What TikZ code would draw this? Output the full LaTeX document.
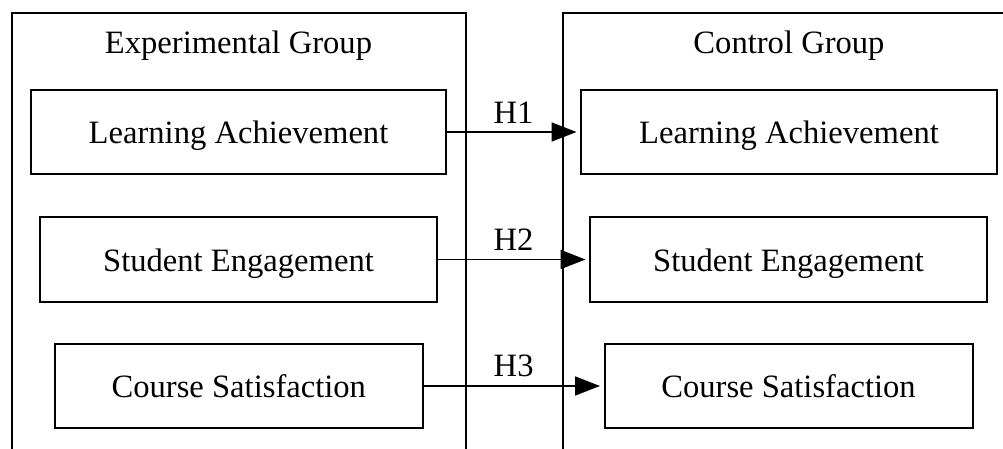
\documentclass[tikz,border=0pt]{standalone}
\usepackage{fontspec}
\setmainfont{Liberation Serif}
\usetikzlibrary{arrows.meta}
\begin{document}
\begin{tikzpicture}[x=1pt,y=-1pt,
  every node/.style={font=\fontsize{32.6}{36}\selectfont},
  cluster/.style={draw, line width=2pt},
  varbox/.style={draw, line width=2pt, rectangle, inner sep=0pt,
    text height=25pt, text depth=1.5pt},
  hlabel/.style={inner sep=0pt, above=8pt},
  hyp/.style={line width=1.8pt, -{Triangle[length=25pt,width=19pt]}, shorten >=3.5pt}]
\useasboundingbox (0,0) rectangle (1003,449);
\clip (0,0) rectangle (1003,449);
% clusters
\draw[cluster] (12,470) -- (12,13) -- (465.5,13) -- (465.5,470);
\draw[cluster] (562.5,470) -- (562.5,13) -- (1030,13);
\node[anchor=base] (expl) at (238.5,54) {Experimental Group};
\node[anchor=base] (ctrl) at (789,54) {Control Group};
% experimental group
\node[varbox, minimum width=415pt, minimum height=84pt] (la1) at (238.5,132) {Learning Achievement};
\node[varbox, minimum width=397pt, minimum height=85pt] (se1) at (238.5,259.5) {Student Engagement};
\node[varbox, minimum width=368pt, minimum height=84pt] (cs1) at (238.8,386) {Course Satisfaction};
% control group
\node[varbox, minimum width=416pt, minimum height=84pt] (la2) at (789,132) {Learning Achievement};
\node[varbox, minimum width=397pt, minimum height=85pt] (se2) at (788.5,259.5) {Student Engagement};
\node[varbox, minimum width=368pt, minimum height=84pt] (cs2) at (788.5,386) {Course Satisfaction};
% hypotheses
\draw[hyp] (la1.east) -- node[hlabel] (h1) {H1} (la2.west);
\draw[hyp] (se1.east) -- node[hlabel] (h2) {H2} (se2.west);
\draw[hyp] (cs1.east) -- node[hlabel] (h3) {H3} (cs2.west);
\end{tikzpicture}
\end{document}
